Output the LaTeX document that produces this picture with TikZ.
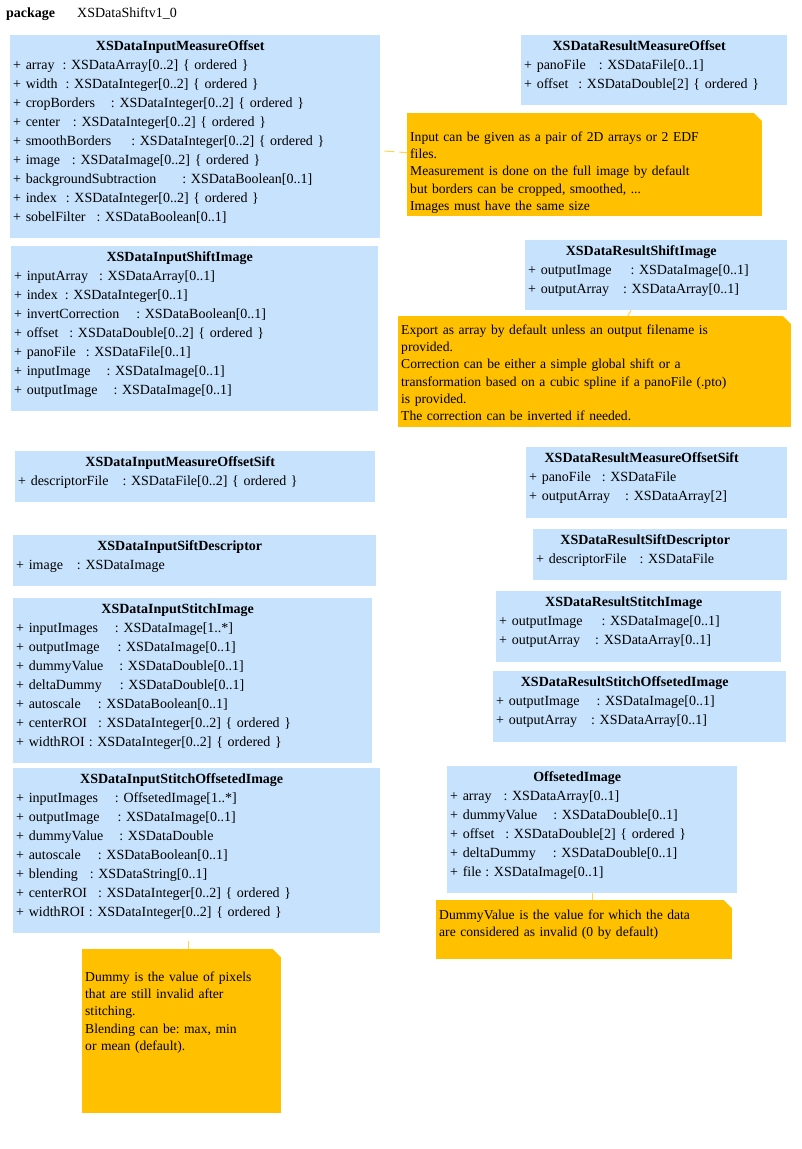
\documentclass[tikz,border=0pt]{standalone}
\usepackage{fontspec}
\setmainfont{Liberation Serif}
\usepackage{tikz}
\usetikzlibrary{positioning}
\definecolor{clsfill}{RGB}{198,226,252}
\definecolor{notefill}{RGB}{255,192,0}
\definecolor{notelinec}{RGB}{255,212,80}
\frenchspacing
\newcommand{\clshead}[1]{\hspace*{\fill}\textbf{#1}\hspace*{\fill}\hspace*{30pt}\mbox{}}
\newcommand{\attr}[3][4]{+ #2\hspace{#1pt}: #3}

\begin{document}
\begin{tikzpicture}[
  x=1pt,y=-1pt,
  cls/.style={fill=clsfill,anchor=north west,align=left,inner xsep=3pt,inner ysep=0pt,
    text height=15pt,font=\fontsize{14}{19}\selectfont},
  note/.style={fill=notefill,anchor=north west,align=left,inner xsep=3pt,inner ysep=0pt,
    font=\fontsize{13.6}{17.3}\selectfont,
    path picture={\fill[white] ([xshift=-8pt]path picture bounding box.north east)
      -- (path picture bounding box.north east)
      -- ([yshift=-8pt]path picture bounding box.north east) -- cycle;}},
  notelink/.style={draw=notelinec,line width=1pt,dash pattern=on 10pt off 5pt}
]
\path[use as bounding box,fill=white] (0,0) rectangle (801,1149);

\node[anchor=base west,inner sep=0pt,font=\fontsize{14}{17}\selectfont] (pkg) at (6,17) {\textbf{package}};
\node[anchor=base west,inner sep=0pt,font=\fontsize{14}{17}\selectfont] (pkgname) at (77,17) {XSDataShiftv1\_0};

% left column: inputs
\node[cls,text width=364pt,text depth=188pt] (mo) at (10,35) {\clshead{XSDataInputMeasureOffset}\\
  \attr[8]{array}{XSDataArray[0..2] \{ ordered \}}\\
  \attr[8]{width}{XSDataInteger[0..2] \{ ordered \}}\\
  \attr[16]{cropBorders}{XSDataInteger[0..2] \{ ordered \}}\\
  \attr[13]{center}{XSDataInteger[0..2] \{ ordered \}}\\
  \attr[20]{smoothBorders}{XSDataInteger[0..2] \{ ordered \}}\\
  \attr[12]{image}{XSDataImage[0..2] \{ ordered \}}\\
  \attr[26]{backgroundSubtraction}{XSDataBoolean[0..1]}\\
  \attr[9]{index}{XSDataInteger[0..2] \{ ordered \}}\\
  \attr[11]{sobelFilter}{XSDataBoolean[0..1]}};
\node[cls,text width=361pt,text depth=150pt] (si) at (11,246) {\clshead{XSDataInputShiftImage}\\
  \attr[11]{inputArray}{XSDataArray[0..1]}\\
  \attr[7]{index}{XSDataInteger[0..1]}\\
  \attr[17]{invertCorrection}{XSDataBoolean[0..1]}\\
  \attr[11]{offset}{XSDataDouble[0..2] \{ ordered \}}\\
  \attr[10]{panoFile}{XSDataFile[0..1]}\\
  \attr[16]{inputImage}{XSDataImage[0..1]}\\
  \attr[16]{outputImage}{XSDataImage[0..1]}};
\node[cls,text width=354pt,text depth=36pt] (mos) at (15,451) {\clshead{XSDataInputMeasureOffsetSift}\\
  \attr[14]{descriptorFile}{XSDataFile[0..2] \{ ordered \}}};
\node[cls,text width=357pt,text depth=36pt] (sd) at (13,535) {\clshead{XSDataInputSiftDescriptor}\\
  \attr[14]{image}{XSDataImage}};
\node[cls,text width=353pt,text depth=150pt] (st) at (13,598) {\clshead{XSDataInputStitchImage}\\
  \attr[17]{inputImages}{XSDataImage[1..*]}\\
  \attr[18]{outputImage}{XSDataImage[0..1]}\\
  \attr[16]{dummyValue}{XSDataDouble[0..1]}\\
  \attr[18]{deltaDummy}{XSDataDouble[0..1]}\\
  \attr[17]{autoscale}{XSDataBoolean[0..1]}\\
  \attr[11]{centerROI}{XSDataInteger[0..2] \{ ordered \}}\\
  \attr{widthROI}{XSDataInteger[0..2] \{ ordered \}}};
\node[cls,text width=361pt,text depth=150pt] (sto) at (13,768) {\clshead{XSDataInputStitchOffsetedImage}\\
  \attr[17]{inputImages}{OffsetedImage[1..*]}\\
  \attr[18]{outputImage}{XSDataImage[0..1]}\\
  \attr[16]{dummyValue}{XSDataDouble}\\
  \attr[17]{autoscale}{XSDataBoolean[0..1]}\\
  \attr[12]{blending}{XSDataString[0..1]}\\
  \attr[11]{centerROI}{XSDataInteger[0..2] \{ ordered \}}\\
  \attr{widthROI}{XSDataInteger[0..2] \{ ordered \}}};

% right column: results
\node[cls,text width=260pt,text depth=55pt] (rmo) at (521,35) {\clshead{XSDataResultMeasureOffset}\\
  \attr[13]{panoFile}{XSDataFile[0..1]}\\
  \attr[10]{offset}{XSDataDouble[2] \{ ordered \}}};
\node[cls,text width=256pt,text depth=55pt] (rsi) at (525,240) {\clshead{XSDataResultShiftImage}\\
  \attr[19]{outputImage}{XSDataImage[0..1]}\\
  \attr[14]{outputArray}{XSDataArray[0..1]}};
\node[cls,text width=255pt,text depth=56pt] (rmos) at (526,447) {\clshead{XSDataResultMeasureOffsetSift}\\
  \attr[11]{panoFile}{XSDataFile}\\
  \attr[15]{outputArray}{XSDataArray[2]}};
\node[cls,text width=248pt,text depth=36pt] (rsd) at (533,529) {\clshead{XSDataResultSiftDescriptor}\\
  \attr[13]{descriptorFile}{XSDataFile}};
\node[cls,text width=279pt,text depth=56pt] (rst) at (496,591) {\clshead{XSDataResultStitchImage}\\
  \attr[19]{outputImage}{XSDataImage[0..1]}\\
  \attr[15]{outputArray}{XSDataArray[0..1]}};
\node[cls,text width=287pt,text depth=56pt] (rsto) at (493,671) {\clshead{XSDataResultStitchOffsetedImage}\\
  \attr[17]{outputImage}{XSDataImage[0..1]}\\
  \attr[14]{outputArray}{XSDataArray[0..1]}};
\node[cls,text width=284pt,text depth=112pt] (oi) at (447,766) {\clshead{OffsetedImage}\\
  \attr[12]{array}{XSDataArray[0..1]}\\
  \attr[16]{dummyValue}{XSDataDouble[0..1]}\\
  \attr[11]{offset}{XSDataDouble[2] \{ ordered \}}\\
  \attr[17]{deltaDummy}{XSDataDouble[0..1]}\\
  \attr{file}{XSDataImage[0..1]}};

% notes
\node[note,text width=349pt,text height=28pt,text depth=75pt] (nA) at (407,113)
  {Input can be given as a pair of 2D arrays or 2 EDF\\files.\\Measurement is done on the full image by default\\but borders can be cropped, smoothed, ...\\Images must have the same size};
\node[note,text width=387pt,text height=18pt,text depth=93pt] (nB) at (398,316)
  {Export as array by default unless an output filename is\\provided.\\Correction can be either a simple global shift or a\\transformation based on a cubic spline if a panoFile (.pto)\\is provided.\\The correction can be inverted if needed.};
\node[note,text width=290pt,text height=19pt,text depth=40pt] (nC) at (436,900)
  {DummyValue is the value for which the data\\are considered as invalid (0 by default)};
\node[note,text width=193pt,text height=32pt,text depth=132pt] (nD) at (82,949)
  {Dummy is the value of pixels\\that are still invalid after\\stitching.\\Blending can be: max, min\\or mean (default).};

\draw[notelink,shorten <=4pt] ([yshift=-14pt]mo.east) -- ([yshift=12pt]nA.west);
\draw[notelink] ([xshift=-25pt]rsi.south) -- ([xshift=33pt]nB.north);
\draw[notelink] (oi.south) -- (oi.south |- nC.north);
\draw[notelink,shorten <=8pt] ([xshift=-8pt]sto.south) -- ([xshift=-8pt]sto.south |- nD.north);
\end{tikzpicture}
\end{document}
